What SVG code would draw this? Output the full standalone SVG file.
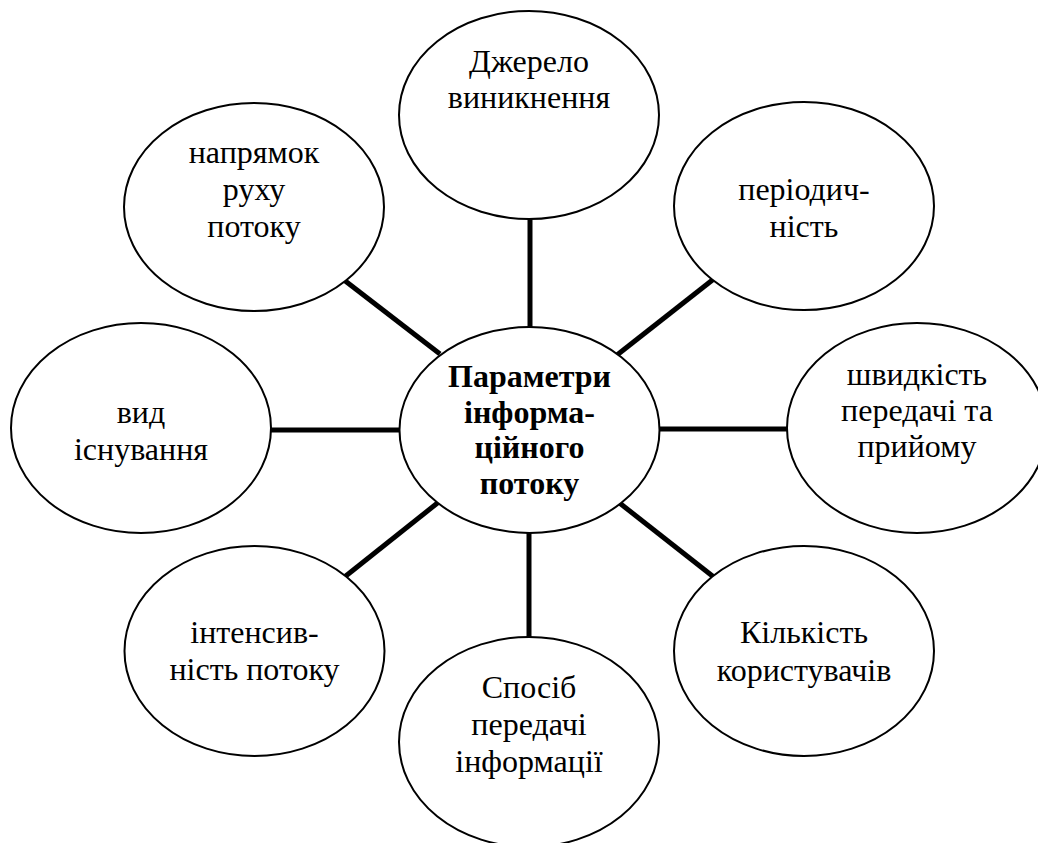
<svg xmlns="http://www.w3.org/2000/svg" width="1038" height="843" viewBox="0 0 1038 843">
  <style>
    .bubble { fill: #ffffff; stroke: #000000; stroke-width: 2; }
    .link { stroke: #000000; stroke-width: 5; fill: none; }
    text { font-family: 'Liberation Serif', serif; font-size: 32px; fill: #000000; text-anchor: middle; }
    .hub text { font-weight: bold; }
  </style>
  <rect width="1038" height="843" fill="#ffffff"/>

  <!-- spokes from the hub to each parameter -->
  <g id="connectors">
    <line class="link" x1="530" y1="215" x2="530" y2="330"/>
    <line class="link" x1="715" y1="278" x2="617" y2="355"/>
    <line class="link" x1="790" y1="429" x2="655" y2="429"/>
    <line class="link" x1="715" y1="578" x2="617" y2="501"/>
    <line class="link" x1="529" y1="530" x2="529" y2="640"/>
    <line class="link" x1="342" y1="579" x2="440" y2="501"/>
    <line class="link" x1="268" y1="430" x2="403" y2="430"/>
    <line class="link" x1="344" y1="280" x2="440" y2="354"/>
  </g>

  <g id="hub" class="hub">
    <ellipse class="bubble" cx="529.5" cy="430" rx="130" ry="103"/>
    <text x="529.5" y="387">Параметри</text>
    <text x="529.5" y="423">інформа-</text>
    <text x="529.5" y="458">ційного</text>
    <text x="529.5" y="494">потоку</text>
  </g>

  <g id="source">
    <ellipse class="bubble" cx="529" cy="115" rx="130" ry="104"/>
    <text x="529" y="72">Джерело</text>
    <text x="529" y="108">виникнення</text>
  </g>

  <g id="periodicity">
    <ellipse class="bubble" cx="804" cy="206" rx="130" ry="104"/>
    <text x="804" y="200">періодич-</text>
    <text x="804" y="237">ність</text>
  </g>

  <g id="speed">
    <ellipse class="bubble" cx="917" cy="428" rx="130" ry="105"/>
    <text x="917" y="385">швидкість</text>
    <text x="917" y="421">передачі та</text>
    <text x="917" y="457">прийому</text>
  </g>

  <g id="users">
    <ellipse class="bubble" cx="804" cy="651" rx="130" ry="105"/>
    <text x="804" y="643">Кількість</text>
    <text x="804" y="681">користувачів</text>
  </g>

  <g id="transfer-method">
    <ellipse class="bubble" cx="529" cy="742" rx="130" ry="105"/>
    <text x="529" y="698">Спосіб</text>
    <text x="529" y="735">передачі</text>
    <text x="529" y="772">інформації</text>
  </g>

  <g id="intensity">
    <ellipse class="bubble" cx="254.5" cy="651" rx="130" ry="105"/>
    <text x="254.5" y="643">інтенсив-</text>
    <text x="254.5" y="680">ність потоку</text>
  </g>

  <g id="form">
    <ellipse class="bubble" cx="141" cy="428" rx="130" ry="105"/>
    <text x="141" y="423">вид</text>
    <text x="141" y="460">існування</text>
  </g>

  <g id="direction">
    <ellipse class="bubble" cx="254" cy="207" rx="130" ry="104"/>
    <text x="254" y="163">напрямок</text>
    <text x="254" y="200">руху</text>
    <text x="254" y="237">потоку</text>
  </g>
</svg>
